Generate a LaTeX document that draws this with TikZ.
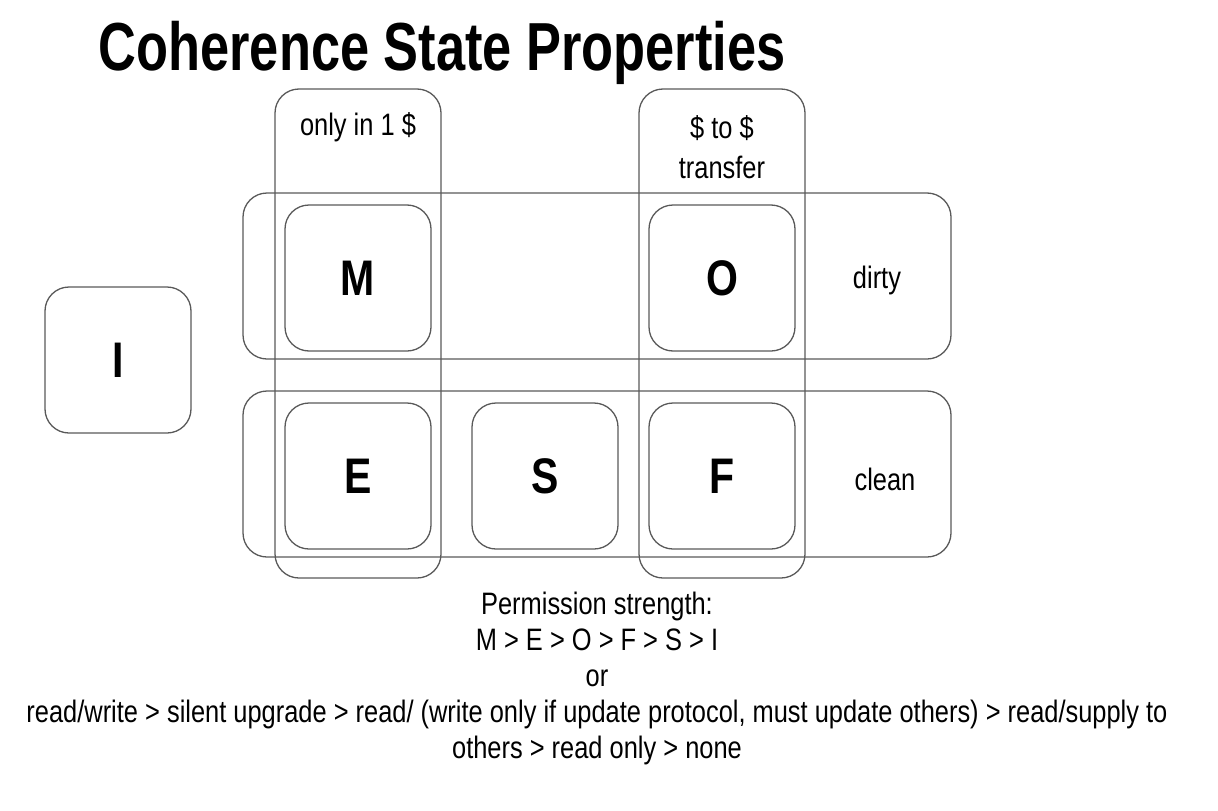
\documentclass[tikz,border=0pt]{standalone}
\usepackage{fontspec}
\setmainfont{Liberation Sans}[FakeStretch=0.82]
\newfontfamily\titlefont{Liberation Sans Bold}[FakeStretch=0.77]
\begin{document}
\begin{tikzpicture}[x=1pt,y=-1pt,
  frame/.style={draw=black!65, line width=1.3pt, rounded corners=24pt, inner sep=0pt},
  state/.style={frame, minimum width=146pt, minimum height=146pt, font=\fontsize{50}{50}\selectfont\bfseries},
  col/.style={frame, minimum width=166pt, minimum height=489pt},
  row/.style={frame, minimum width=708pt, minimum height=166pt},
  lbl/.style={font=\fontsize{31}{40}\selectfont, align=center, inner sep=0pt}
]
\useasboundingbox (0,0) rectangle (1218,811);
% title
\node[anchor=base, inner sep=0pt, font=\titlefont\fontsize{68}{68}\selectfont] (title) at (442,70) {Coherence State Properties};
% groups
\node[col] (col1) at (358,333.5) {};
\node[col] (col2) at (722,333.5) {};
\node[row] (row1) at (597,276) {};
\node[row] (row2) at (597,474) {};
% states
\node[state] (I) at (118,360) {I};
\node[state] (M) at (358,278) {M};
\node[state] (O) at (722,278) {O};
\node[state] (E) at (358,476) {E};
\node[state] (S) at (545,476) {S};
\node[state] (F) at (722,476) {F};
% labels
\node[lbl] (l1) at (358,127) {only in 1 \$};
\node[lbl] (l2) at (722,147) {\$ to \$\\transfer};
\node[lbl] (l3) at (877,280) {dirty};
\node[lbl] (l4) at (885,479) {clean};
% bottom text
\node[lbl, font=\fontsize{31}{36}\selectfont, anchor=north] (perm) at (597,592) {Permission strength:\\M > E > O > F > S > I\\or\\read/write > silent upgrade > read/ (write only if update protocol, must update others) > read/supply to\\others > read only > none};
\end{tikzpicture}
\end{document}
